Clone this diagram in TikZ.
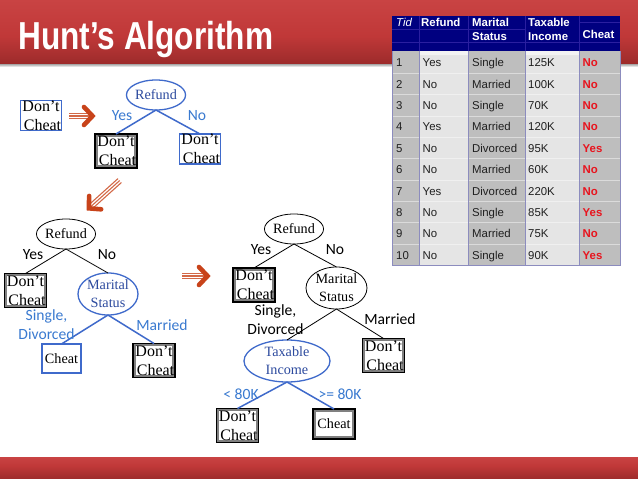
\documentclass[tikz,border=0pt]{standalone}
\usepackage{fontspec}
\setmainfont{Liberation Serif}
\newfontfamily\tabfont{Liberation Sans}
\newfontfamily\titlefont[FakeStretch=0.81]{Liberation Sans}
\newfontfamily\labfont{Carlito}
\usetikzlibrary{shapes.geometric}
\definecolor{bandtop}{HTML}{C94343}
\definecolor{bandmid}{HTML}{C03838}
\definecolor{bandbot}{HTML}{9C2B2B}
\definecolor{treeblue}{HTML}{3F6ACB}
\definecolor{textblue}{HTML}{2C4A9E}
\definecolor{labblue}{HTML}{3A7AD0}
\definecolor{arrowred}{HTML}{C8431A}
\definecolor{tabhead}{HTML}{000080}
\definecolor{tabgrid}{HTML}{2A1FA0}
\definecolor{coldark}{HTML}{BEBEBE}
\definecolor{collight}{HTML}{E5E5E5}
\definecolor{tabline}{HTML}{8C8CBE}
\definecolor{cheatred}{HTML}{E8141E}
\newcommand\dc{Don’t\\\hspace*{3pt}Cheat}
\newcommand\stepArrow[4]{%
  \begin{scope}[shift={(#1,#2)},rotate=#3]
    \draw[arrowred!80!white,line width=1.1pt] (-#4,-2.6)--(-6,-2.6) (-#4,0)--(-4,0) (-#4,2.6)--(-6,2.6);
    \draw[arrowred,line width=4.6pt,line cap=round,line join=miter] (-11,-9)--(-2.5,0)--(-11,9);
  \end{scope}}
\tikzset{
  x=1pt,y=-1pt,
  treetxt/.style={font=\fontsize{14.2}{18}\selectfont,align=center,inner sep=0pt,outer sep=0pt},
  testnode/.style={treetxt,shape=ellipse,draw=black,line width=0.8pt,fill=white},
  testblue/.style={testnode,draw=treeblue,line width=1.3pt,text=textblue},
  leafbase/.style={font=\fontsize{16}{19}\selectfont,align=center,inner sep=0pt,outer sep=0pt,minimum width=#1},
  leafdone/.style={leafbase=42pt,minimum height=34pt,draw=black,line width=1.8pt,fill=white,
    path picture={\draw[black!50,line width=5.2pt] (path picture bounding box.south west) rectangle (path picture bounding box.north east);}},
  leafnew/.style={leafbase=40pt,minimum height=30pt,draw=treeblue,line width=1.3pt},
  edge/.style={draw=black,line width=0.8pt},
  edgeblue/.style={draw=treeblue,line width=1.5pt},
  lab/.style={font=\labfont\fontsize{15.6}{19}\selectfont,align=center,inner sep=0pt},
  labb/.style={lab,text=labblue},
  hd/.style={font=\tabfont\bfseries\fontsize{11.4}{13}\selectfont,text=white,anchor=base west,inner sep=0pt},
  cell/.style={font=\tabfont\fontsize{11.4}{13}\selectfont,text=black!88,anchor=base west,inner sep=0pt},
  cellr/.style={font=\tabfont\bfseries\fontsize{11.4}{13}\selectfont,text=cheatred,anchor=base west,inner sep=0pt},
}
\begin{document}
\begin{tikzpicture}
\useasboundingbox (0,0) rectangle (638,479);
% bands
\fill[white] (0,0) rectangle (638,479);
\shade[top color=bandtop,bottom color=bandmid] (0,0) rectangle (638,36);
\shade[top color=bandmid,bottom color=bandbot] (0,36) rectangle (638,64);
\shade[top color=black!35,bottom color=white] (0,64) rectangle (638,67);
\shade[top color=bandtop,bottom color=bandmid] (0,457) rectangle (638,466);
\shade[top color=bandmid,bottom color=bandbot] (0,466) rectangle (638,479);
\node[font=\titlefont\bfseries\fontsize{39}{40}\selectfont,text=white,anchor=base west,inner sep=0pt] (title) at (18,49) {Hunt’s Algorithm};
% table
\fill[coldark] (392,51) rectangle (419,265);
\fill[collight] (419,51) rectangle (468,265);
\fill[coldark] (468,51) rectangle (525,265);
\fill[collight] (525,51) rectangle (579,265);
\fill[coldark] (579,51) rectangle (620,265);
\fill[white,opacity=.55] (419,51) rectangle (468,55) (525,51) rectangle (579,55);
\foreach \ly in {73,94,116,137,158,180,201,222,244} \draw[white,opacity=.45,line width=.7pt] (392,\ly)--(620,\ly);
\fill[tabhead] (392,16) rectangle (620,51);
\draw[tabgrid,line width=.4pt] (392,29)--(525,29) (392,42.5)--(620,42.5) (579,22)--(620,22);
\draw[tabgrid,line width=.4pt] (419,16)--(419,51) (468,16)--(468,51) (525,16)--(525,51) (579,16)--(579,51);
\draw[tabline,line width=.8pt] (392,51)--(392,265)--(620,265)--(620,51) (419,51)--(419,265) (468,51)--(468,265) (525,51)--(525,265) (579,51)--(579,265);
\node[hd,font=\tabfont\itshape\fontsize{11.4}{13}\selectfont] (hTid) at (396,27) {Tid};
\node[hd] (hRefund) at (421,27) {Refund};
\node[hd] (hMar) at (472,27) {Marital};
\node[hd] (hSta) at (472,40) {Status};
\node[hd] (hTax) at (528,27) {Taxable};
\node[hd] (hInc) at (528,40) {Income};
\node[hd] (hChe) at (582.5,38) {Cheat};
\foreach \i/\by/\ref/\mar/\inc/\che in {
 1/66/Yes/Single/125K/No,
 2/88/No/Married/100K/No,
 3/109/No/Single/70K/No,
 4/130/Yes/Married/120K/No,
 5/152/No/Divorced/95K/Yes,
 6/173/No/Married/60K/No,
 7/195/Yes/Divorced/220K/No,
 8/216/No/Single/85K/Yes,
 9/237/No/Married/75K/No,
 10/259/No/Single/90K/Yes}{
  \node[cell] (tid\i) at (396,\by) {\i};
  \node[cell] (ref\i) at (422.5,\by) {\ref};
  \node[cell] (mar\i) at (472,\by) {\mar};
  \node[cell] (inc\i) at (528,\by) {\inc};
  \node[cellr] (che\i) at (582.5,\by) {\che};
}
% step arrows
\stepArrow{95}{116}{0}{26}
\stepArrow{87}{210}{222}{44}
\stepArrow{210}{276}{0}{28}
% tree 0
\node[leafnew] (a0) at (41,115.5) {\dc};
% tree 1
\node[testblue,minimum width=48pt,minimum height=30pt] (b1) at (156,95) {Refund};
\node[leafdone] (b2) at (116,151) {\dc};
\node[leafnew] (b3) at (200,149) {\dc};
\draw[edgeblue] (b1.south)--(b2.north);
\draw[edgeblue] (b1.south)--(b3.north);
\node[labb] (byes) at (122,116) {Yes};
\node[labb] (bno) at (197,116) {No};
% tree 2
\node[testnode,minimum width=48pt,minimum height=30pt] (c1) at (66,234) {Refund};
\node[leafdone] (c2) at (25.5,290.5) {\dc};
\node[testblue,minimum width=60pt,minimum height=42pt] (c3) at (108,294) {Marital\\Status};
\node[leafnew,minimum width=39pt,minimum height=29pt,font=\fontsize{14.2}{18}\selectfont] (c4) at (61.5,358.5) {Cheat};
\node[leafdone] (c5) at (154,360.5) {\dc};
\draw[edge] (c1.south)--(c2.north);
\draw[edge] (c1.south)--(c3.north);
\draw[edgeblue] (c3.south)--(c4.north);
\draw[edgeblue] (c3.south)--(c5.north);
\node[lab] (cyes) at (33,255) {Yes};
\node[lab] (cno) at (107,255) {No};
\node[labb] (csd) at (46.5,324.5) {Single,\\Divorced};
\node[labb] (cm) at (162,325) {Married};
% tree 3
\node[testnode,minimum width=48pt,minimum height=30pt] (d1) at (294,229) {Refund};
\node[leafdone] (d2) at (254,285) {\dc};
\node[testnode,minimum width=61pt,minimum height=42pt] (d3) at (336.5,288) {Marital\\Status};
\node[leafdone] (d4) at (383.5,355.5) {\dc};
\node[testblue,minimum width=86pt,minimum height=42pt] (d5) at (287,361) {Taxable\\Income};
\node[leafdone] (d6) at (237.5,425.5) {\dc};
\node[leafdone,minimum height=30pt,font=\fontsize{14.2}{18}\selectfont] (d7) at (334,424) {Cheat};
\draw[edge] (d1.south)--(d2.north);
\draw[edge] (d1.south)--(d3.north);
\draw[edge] (d3.south)--(d5.north);
\draw[edge] (d3.south)--(d4.north);
\draw[edgeblue] (d5.south)--(d6.north);
\draw[edgeblue] (d5.south)--(d7.north);
\node[lab] (dyes) at (261,250) {Yes};
\node[lab] (dno) at (335,250) {No};
\node[lab] (dsd) at (275.5,319.5) {Single,\\Divorced};
\node[lab] (dm) at (390,319) {Married};
\node[labb] (dlt) at (241,394) {< 80K};
\node[labb] (dge) at (340,394) {>= 80K};
\end{tikzpicture}
\end{document}
